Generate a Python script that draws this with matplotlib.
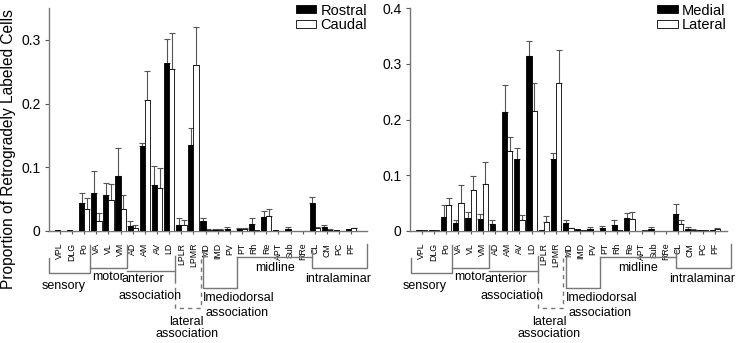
import matplotlib.pyplot as plt
import numpy as np

plt.rcParams['font.family'] = ['Liberation Sans', 'DejaVu Sans']

# thalamic nuclei on the x axis
regions = ['VPL', 'DLG', 'Po', 'VA', 'VL', 'VM', 'AD', 'AM', 'AV', 'LD', 'LPLR', 'LPMR',
           'MD', 'IMD', 'PV', 'PT', 'Rh', 'Re', 'APT', 'Sub', 'RRe', 'CL', 'CM', 'PC', 'PF']

# left panel: rostral vs caudal
rostral = [0.001, 0.001, 0.044, 0.059, 0.057, 0.087, 0.008, 0.134, 0.072, 0.263, 0.010, 0.135,
           0.016, 0.002, 0.003, 0.003, 0.011, 0.022, 0.0015, 0.003, 0.0005, 0.044, 0.006, 0.001, 0.003]
rostral_err = [0, 0, 0.016, 0.035, 0.019, 0.044, 0.007, 0.004, 0.030, 0.038, 0.010, 0.027,
               0.004, 0.001, 0.004, 0.002, 0.009, 0.009, 0, 0.004, 0, 0.010, 0.003, 0, 0]
caudal = [0, 0, 0.034, 0.016, 0.048, 0.035, 0.005, 0.206, 0.068, 0.255, 0.009, 0.260,
          0.002, 0.001, 0, 0.003, 0.001, 0.024, 0, 0, 0, 0.005, 0.002, 0, 0.004]
caudal_err = [0, 0, 0.018, 0.013, 0.026, 0.022, 0.004, 0.045, 0.031, 0.055, 0.009, 0.060,
              0.001, 0.002, 0, 0.002, 0, 0.011, 0, 0, 0, 0.001, 0.001, 0, 0.001]

# right panel: medial vs lateral
medial = [0.001, 0.001, 0.025, 0.014, 0.024, 0.022, 0.013, 0.214, 0.130, 0.314, 0.001, 0.130,
          0.014, 0.003, 0.003, 0.005, 0.011, 0.023, 0, 0.004, 0.0005, 0.031, 0.004, 0.001, 0.002]
medial_err = [0, 0, 0.022, 0.006, 0.010, 0.009, 0.006, 0.048, 0.019, 0.026, 0, 0.010,
              0.005, 0, 0.004, 0.004, 0.009, 0.009, 0, 0.003, 0, 0.017, 0.003, 0, 0]
lateral = [0.001, 0.001, 0.047, 0.051, 0.074, 0.085, 0, 0.143, 0.020, 0.215, 0.017, 0.266,
           0.005, 0.002, 0, 0, 0.001, 0.022, 0.001, 0, 0, 0.013, 0.002, 0.001, 0.004]
lateral_err = [0, 0, 0.013, 0.031, 0.024, 0.039, 0, 0.026, 0.008, 0.050, 0.010, 0.059,
               0.001, 0, 0, 0, 0, 0.012, 0, 0, 0, 0.006, 0.002, 0, 0.001]

# group brackets under the tick labels (x = category index, y = pixel row of figure)
brackets = [
    [(-0.9, 258), (-0.9, 273), (2.5, 273), (2.5, 245)],
    [(2.5, 268), (5.5, 268), (5.5, 245)],
    [(5.5, 271), (9.5, 271)],
    [(9.5, 256), (9.5, 279)],
    [(11.8, 251), (11.8, 288), (14.6, 288), (14.6, 257)],
    [(14.6, 257), (20.8, 257)],
    [(20.8, 250), (20.8, 268), (25.3, 268), (25.3, 244)],
]
dashed_bracket = [(9.5, 279), (9.5, 308), (11.6, 308), (11.6, 258)]
group_labels = [
    ('sensory', 0.27, 285.7),
    ('motor', 3.96, 276.7),
    ('anterior', 6.87, 279.3),
    ('association', 7.42, 296),
    ('lateral', 10.45, 322.3),
    ('association', 10.45, 334.3),
    ('Imediodorsal', 14.75, 297.7),
    ('association', 14.6, 313.3),
    ('midline', 17.7, 267.7),
    ('intralaminar', 22.94, 279),
]

W, H = 737, 343
ax_top, ax_bot = 8, 231


def yf(py):
    # pixel row -> axes fraction
    return (ax_bot - py) / (ax_bot - ax_top)


def draw_panel(ax, black, black_err, white, white_err, names, ymax, yticks, xlim):
    x = np.arange(len(regions))
    w = 0.43
    black = np.array(black)
    white = np.array(white)
    black_err = np.array(black_err)
    white_err = np.array(white_err)
    ax.bar(x - w / 2, black, w, color='black', edgecolor='black', linewidth=0.6, label=names[0], zorder=3)
    ax.bar(x + w / 2, white, w, color='white', edgecolor='black', linewidth=0.6, label=names[1], zorder=3)
    for xx, v, e in [(x - w / 2, black, black_err), (x + w / 2, white, white_err)]:
        m = e > 0
        ax.errorbar(xx[m], v[m], yerr=[np.zeros(m.sum()), e[m]], fmt='none', ecolor='#555555',
                    elinewidth=0.8, capsize=2.5, capthick=0.8, zorder=2)

    ax.set_xlim(*xlim)
    ax.set_ylim(0, ymax)
    ax.set_yticks(yticks)
    ax.set_yticklabels(['0'] + ['%.1f' % t for t in yticks[1:]], fontsize=10)
    ax.set_xticks(x)
    ax.set_xticklabels(regions, rotation=90, fontsize=6.3, va='top')
    ax.tick_params(axis='x', length=2, pad=6.5, color='#555555')
    ax.tick_params(axis='y', length=3, pad=3, color='#555555')
    for s in ['top', 'right']:
        ax.spines[s].set_visible(False)
    for s in ['left', 'bottom']:
        ax.spines[s].set_color('#777777')
        ax.spines[s].set_linewidth(1.0)

    trans = ax.get_xaxis_transform()
    for seg in brackets:
        xs = [p[0] for p in seg]
        ys = [yf(p[1]) for p in seg]
        ax.plot(xs, ys, color='#777777', lw=1.0, transform=trans, clip_on=False)
    ax.plot([p[0] for p in dashed_bracket], [yf(p[1]) for p in dashed_bracket],
            color='#777777', lw=1.0, ls=(0, (3, 3)), transform=trans, clip_on=False)
    for txt, gx, gy in group_labels:
        ax.text(gx, yf(gy), txt, transform=trans, ha='center', va='center', fontsize=9)

    ax.legend(loc='upper right', bbox_to_anchor=(1.0, 1.02), frameon=False, fontsize=10.5,
              handlelength=1.4, handleheight=0.45, labelspacing=0.05, handletextpad=0.3,
              borderaxespad=0, borderpad=0)


fig = plt.figure(figsize=(W / 100, H / 100), dpi=100)
ax1 = fig.add_axes([49 / W, (H - ax_bot) / H, 318 / W, (ax_bot - ax_top) / H])
ax2 = fig.add_axes([410 / W, (H - ax_bot) / H, 317 / W, (ax_bot - ax_top) / H])

draw_panel(ax1, rostral, rostral_err, caudal, caudal_err, ['Rostral', 'Caudal'],
           0.35, [0, 0.1, 0.2, 0.3], (-0.9, 25.3))
draw_panel(ax2, medial, medial_err, lateral, lateral_err, ['Medial', 'Lateral'],
           0.4, [0, 0.1, 0.2, 0.3, 0.4], (-0.96, 25.0))

ax1.set_ylabel('Proportion of Retrogradely Labeled Cells', fontsize=11.2)
ax1.yaxis.set_label_coords(-33 / 318, yf(149))

fig.savefig('out.png', dpi=100)
